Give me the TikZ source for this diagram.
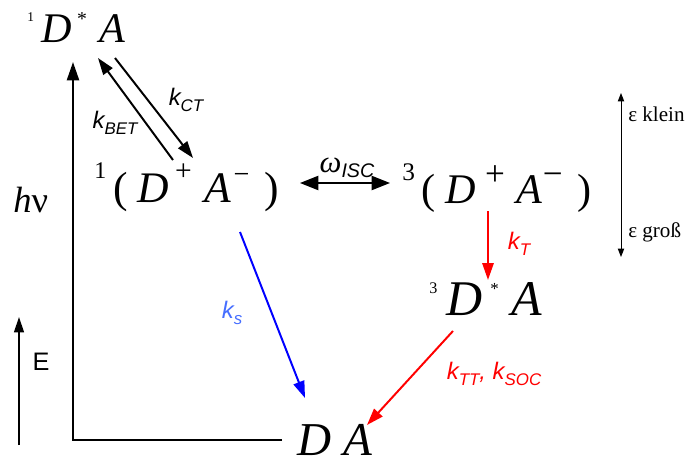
\documentclass[tikz,border=0pt]{standalone}
\usepackage{graphicx}
\usepackage{fontspec}
\setmainfont{Liberation Serif}
\setsansfont{Liberation Sans}
\usetikzlibrary{arrows.meta}
\definecolor{ksblue}{RGB}{70,110,255}
\newcommand{\hoch}[3]{\raisebox{#1}{\fontsize{#2}{#2}\selectfont #3}}
\newcommand{\rate}[2]{{\sffamily\itshape\fontsize{17}{17}\selectfont #1\hoch{-4pt}{12}{#2}}}

\begin{document}
\begin{tikzpicture}[x=0.025cm, y=-0.025cm,
	state/.style={anchor=base west, inner sep=0pt},
	axis/.style={line width=1.7pt, -{Triangle[length=13pt, width=8.5pt]}},
	rateline/.style={line width=1.4pt, -{Triangle[length=12pt, width=8pt]}}]
	\useasboundingbox (0,0) rectangle (697,466);
	% States:
	\node[state] (s1) at (27,43) {\fontsize{30}{30}\selectfont\hoch{15pt}{9.5}{1}\hspace{5.2pt}\textit{D}\hspace{3.8pt}\hoch{12.5pt}{14}{*}\hspace{9pt}\textit{A}};
	\node[state] (ct1) at (94,202) {\fontsize{31}{31}\selectfont\hoch{17pt}{17}{1}\hspace{5pt}(\hspace{6.8pt}\textit{D}\hspace{4.5pt}\hoch{15pt}{21}{+}\hspace{9pt}\textit{A}\hspace{1.7pt}\hoch{13pt}{20}{−}\hspace{10.7pt})};
	\node[state] (ct3) at (402,203) {\fontsize{30}{30}\selectfont\hoch{16pt}{18}{3}\hspace{4.5pt}(\hspace{7pt}\textit{D}\hspace{6.8pt}\hoch{12.5pt}{25}{+}\hspace{8.5pt}\textit{A}\hoch{12.5pt}{25}{−}\hspace{10.7pt})};
	\node[state] (t3) at (429,315) {\fontsize{35.5}{35.5}\selectfont\hoch{15.6pt}{11.5}{3}\hspace{6.4pt}\textit{D}\hspace{5.7pt}\hoch{14.5pt}{12}{*}\hspace{9pt}\textit{A}};
	\node[state] (gs) at (297,455) {\fontsize{33.5}{33.5}\selectfont\textit{D}\hspace{8.5pt}\textit{A}};
	\node[state] (hv) at (13,212) {\fontsize{26}{26}\selectfont\textit{h}ν};
	\node[inner sep=0pt] (E) at (41,362) {\sffamily\fontsize{18}{18}\selectfont E};
	\node[state] (klein) at (628,121) {\fontsize{15}{15}\selectfont ε klein};
	\node[state] (gross) at (628,237) {\fontsize{15}{15}\selectfont ε groß};
	% Arrow ends:
	\coordinate (orig) at (73,440);
	\coordinate (ytop) at (73,62);
	\coordinate (xend) at (282,440);
	\coordinate (e-a) at (19,445);
	\coordinate (e-b) at (19,317);
	\coordinate (eps-a) at (621,93);
	\coordinate (eps-b) at (621,257);
	\coordinate (ct-a) at (115,58);
	\coordinate (ct-b) at (193,158);
	\coordinate (bet-a) at (173,160);
	\coordinate (bet-b) at (98,58);
	\coordinate (isc-a) at (300,183);
	\coordinate (isc-b) at (390,183);
	\coordinate (kt-a) at (488,211);
	\coordinate (kt-b) at (488,280);
	\coordinate (ktt-a) at (453,331);
	\coordinate (ktt-b) at (367,425);
	\coordinate (ks-a) at (240,232);
	\coordinate (ks-b) at (305,398);
	% Axes:
	\draw[axis] (xend) -- (orig) -- (ytop);
	\draw[line width=1.5pt, -{Triangle[length=11pt, width=7pt]}] (e-a) -- (e-b);
	\draw[line width=0.7pt, {Triangle[length=6pt, width=4.5pt]}-{Triangle[length=6pt, width=4.5pt]}] (eps-a) -- (eps-b);
	% Rates:
	\draw[rateline] (ct-a) -- (ct-b);
	\draw[rateline] (bet-a) -- (bet-b);
	\node (kct) at (186,100) {\rate{k}{CT}};
	\node (kbet) at (115,123) {\rate{k}{BET}};
	\draw[line width=1.4pt, {Triangle[length=13pt, width=10pt]}-{Triangle[length=13pt, width=10pt]}] (isc-a) -- (isc-b);
	\node (wisc) at (347,168) {\fontsize{22}{22}\selectfont\textit{ω}\hoch{-4pt}{14}{\sffamily\itshape ISC}};
	\draw[rateline, red] (kt-a) -- (kt-b);
	\node[red] (kt) at (519,244) {\rate{k}{T}};
	\draw[rateline, red] (ktt-a) -- (ktt-b);
	\node[red] (ktt) at (494,374) {\sffamily\itshape\fontsize{17}{17}\selectfont k\hoch{-4pt}{12}{TT}, k\hoch{-4pt}{12}{SOC}};
	\draw[rateline, blue] (ks-a) -- (ks-b);
	\node[ksblue] (ks) at (232,313) {\rate{k}{s}};
\end{tikzpicture}
\end{document}
